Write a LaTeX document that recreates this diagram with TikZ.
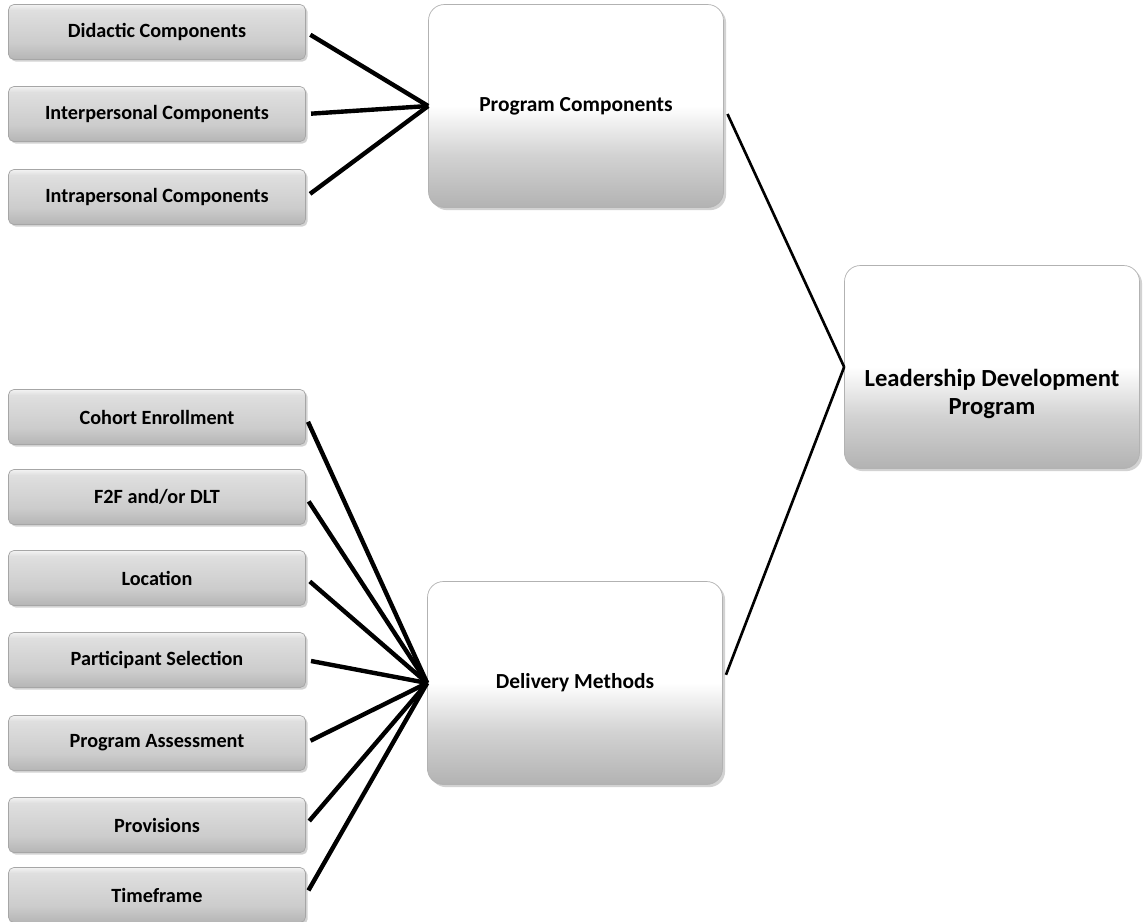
\documentclass[tikz,border=0pt]{standalone}
\usepackage{fontspec}
\setmainfont{Carlito}
\usetikzlibrary{shadows}

\pgfdeclareverticalshading{bigshade}{100bp}{color(0bp)=(gray!60); color(25bp)=(gray!60); color(38bp)=(gray!35); color(50bp)=(white); color(100bp)=(white)}
\pgfdeclareverticalshading{smallshade}{100bp}{color(0bp)=(gray!58); color(25bp)=(gray!58); color(40bp)=(gray!40); color(70bp)=(gray!25); color(75bp)=(gray!10); color(100bp)=(gray!10)}

\tikzset{
	smallbox/.style={draw=gray!70,rounded corners=3pt,minimum width=5.94cm,minimum height=1.1cm,shading=smallshade,
		drop shadow={shadow xshift=1.2pt,shadow yshift=-1.2pt,fill=gray!70},font=\fontsize{11.5}{13}\selectfont\bfseries},
	bigbox/.style={draw=gray!60,rounded corners=9pt,minimum width=5.9cm,minimum height=4.06cm,shading=bigshade,
		drop shadow={shadow xshift=1.5pt,shadow yshift=-1.5pt,fill=gray!70},font=\fontsize{12.2}{14}\selectfont\bfseries},
	bigtext/.style={align=center,font=\fontsize{14}{16}\selectfont\bfseries},
	leg/.style={line width=2.5pt,shorten <=3pt},
	mainleg/.style={line width=1.5pt,shorten <=5pt}
}

\begin{document}
\begin{tikzpicture}[x=0.02cm,y=-0.02cm]
		\useasboundingbox (0,0) rectangle (1144,921);
		% program components side
		\node[smallbox] (did) at (157,32) {Didactic Components};
		\node[smallbox] (inter) at (157,114) {Interpersonal Components};
		\node[smallbox] (intra) at (157,197) {Intrapersonal Components};
		\node[bigbox] (pc) at (576,106) {Program Components};
		% delivery methods side
		\node[smallbox] (cohort) at (157,417) {Cohort Enrollment};
		\node[smallbox] (ftf) at (157,497) {F2F and/or DLT};
		\node[smallbox] (loc) at (157,578) {Location};
		\node[smallbox] (part) at (157,660) {Participant Selection};
		\node[smallbox] (assess) at (157,743) {Program Assessment};
		\node[smallbox] (prov) at (157,825) {Provisions};
		\node[smallbox] (time) at (157,895) {Timeframe};
		\node[bigbox] (dm) at (575,683) {Delivery Methods};
		% leadership program
		\node[bigbox] (ldp) at (992,367) {};
		\node[bigtext] (ldptext) at (992,394) {Leadership Development\\Program};
		\foreach \n in {did,inter,intra}
			\draw[leg] (\n.east) -- (pc.west);
		\foreach \n in {cohort,ftf,loc,part,assess,prov,time}
			\draw[leg] (\n.east) -- (dm.west);
		\draw[mainleg] (pc.east) -- (ldp.west);
		\draw[mainleg] (dm.east) -- (ldp.west);
\end{tikzpicture}
\end{document}
